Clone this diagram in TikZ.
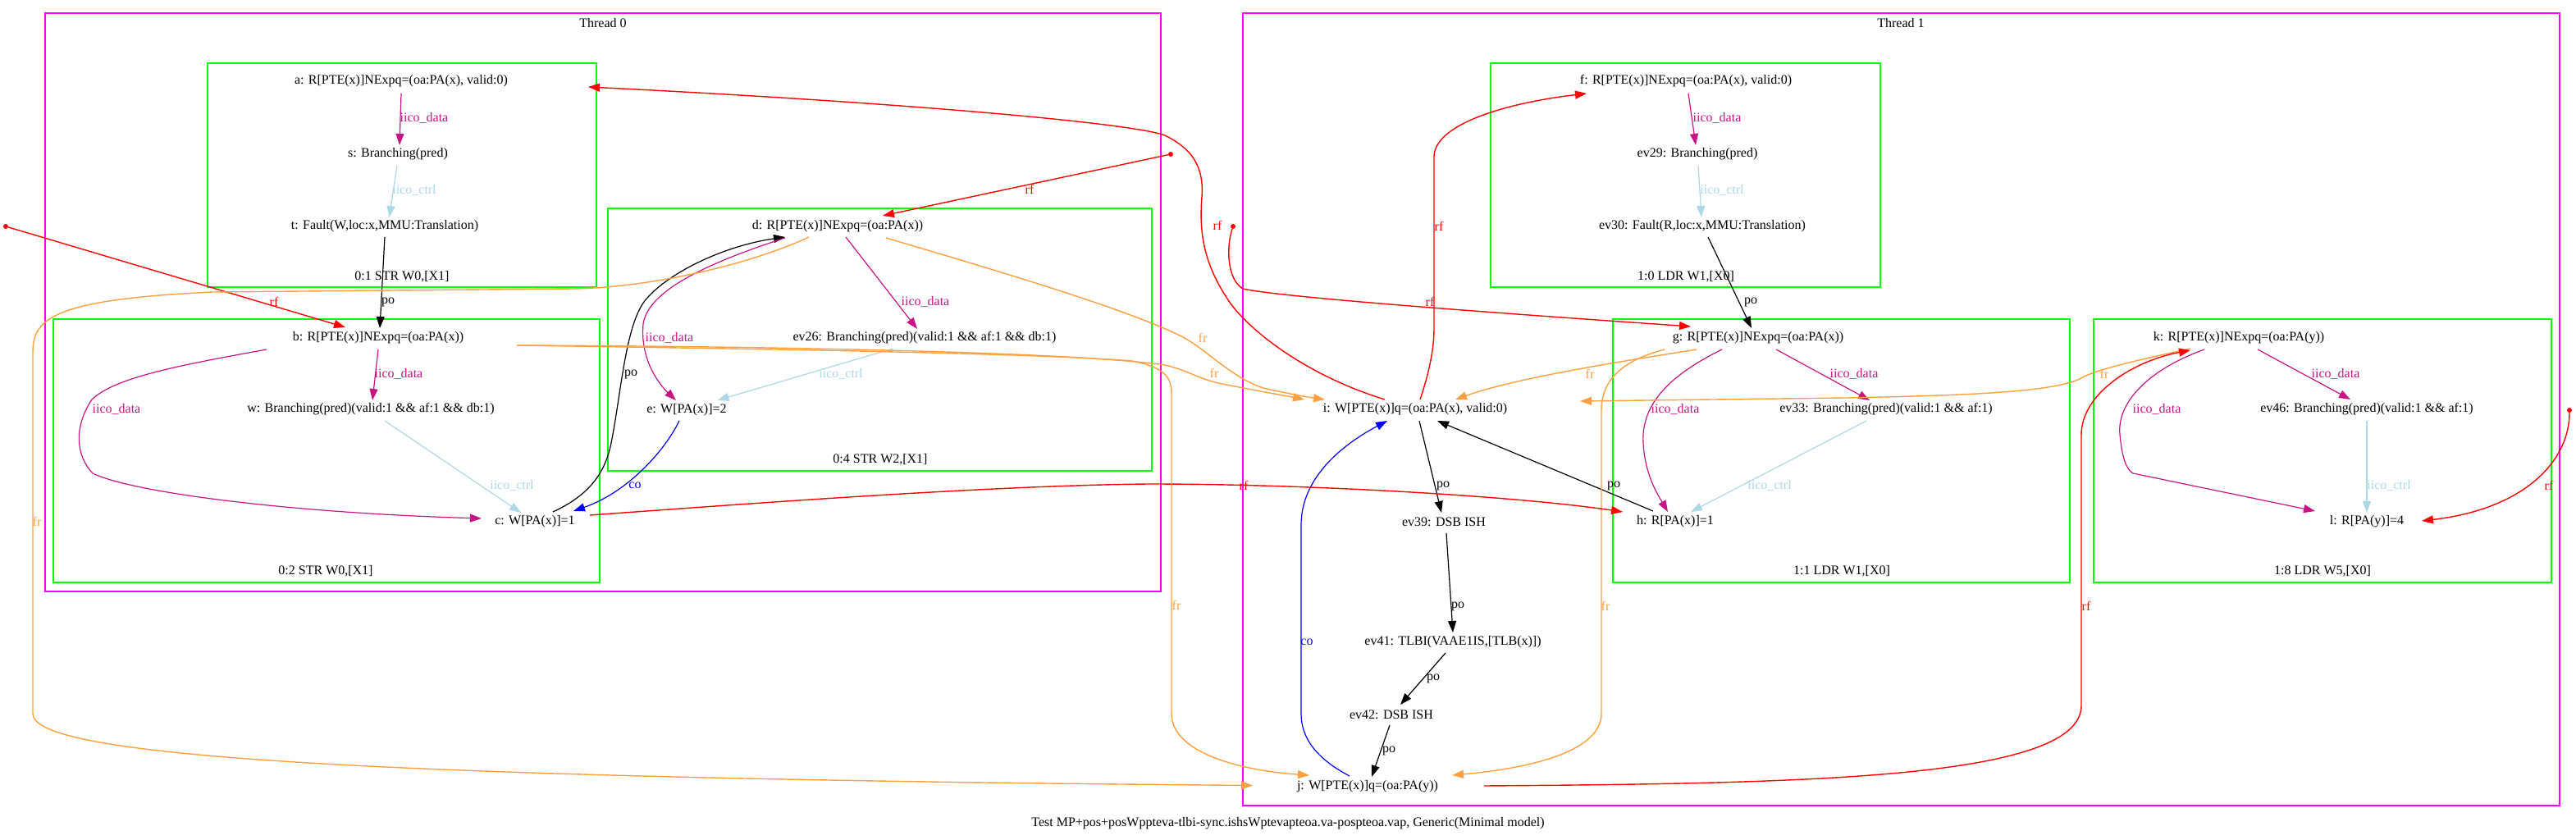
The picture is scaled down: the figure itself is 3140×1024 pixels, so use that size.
\documentclass[tikz,border=0pt]{standalone}
\usepackage{fontspec}
\setmainfont{Liberation Serif}
\usetikzlibrary{arrows.meta}
\definecolor{iicod}{RGB}{199,21,133}
\definecolor{iicoc}{RGB}{173,216,230}
\definecolor{frc}{RGB}{255,160,64}
\definecolor{grn}{RGB}{0,255,0}
\definecolor{mag}{RGB}{255,0,255}
\begin{document}
\begin{tikzpicture}[x=1pt,y=-1pt,
  every node/.style={font=\fontsize{16}{19}\selectfont, inner sep=0pt},
  ev/.style={},
  lbl/.style={},
  dotnode/.style={circle,fill=red,minimum size=6pt,inner sep=0pt},
  thr/.style={draw=mag,line width=1.4pt},
  insbox/.style={draw=grn,line width=1.6pt},
  tipped/.style={-{Triangle[length=14pt,width=10pt]}},
  edata/.style={tipped,draw=iicod,fill=none,line width=1.2pt},
  ectrl/.style={tipped,draw=iicoc,line width=1.2pt},
  epo/.style={tipped,draw=black,line width=1.2pt},
  erf/.style={tipped,draw=red,line width=1.4pt},
  efr/.style={tipped,draw=frc,line width=1.4pt},
  eco/.style={tipped,draw=blue,line width=1.2pt}]
\useasboundingbox (0,0) rectangle (3140,1024);
\fill[white] (0,0) rectangle (3140,1024);

% clusters
\draw[thr] (55,16) rectangle (1415,721);
\draw[thr] (1515,16) rectangle (3120,982);
\draw[insbox] (253,77) rectangle (727,350);
\draw[insbox] (65,389) rectangle (731,710);
\draw[insbox] (741,254) rectangle (1404,574);
\draw[insbox] (1817,77) rectangle (2292,350);
\draw[insbox] (1966,389) rectangle (2523,710);
\draw[insbox] (2552,389) rectangle (3110,710);

\node (th0) at (735,28) {Thread 0};
\node (th1) at (2317,28) {Thread 1};
\node (cA) at (490,337) {0:1 STR W0,[X1]};
\node (cB) at (397,696) {0:2 STR W0,[X1]};
\node (cC) at (1073,560) {0:4 STR W2,[X1]};
\node (cD) at (2055,337) {1:0 LDR W1,[X0]};
\node (cE) at (2245,696) {1:1 LDR W1,[X0]};
\node (cF) at (2831,696) {1:8 LDR W5,[X0]};
\node (cap) at (1570,1004) {Test MP+pos+posWppteva-tlbi-sync.ishsWptevapteoa.va-pospteoa.vap, Generic(Minimal model)};

% events
\node[ev] (a) at (489,99) {a: R[PTE(x)]NExpq=(oa:PA(x), valid:0)};
\node[ev] (s) at (485,188) {s: Branching(pred)};
\node[ev] (t) at (469,276) {t: Fault(W,loc:x,MMU:Translation)};
\node[ev] (b) at (461,412) {b: R[PTE(x)]NExpq=(oa:PA(x))};
\node[ev] (w) at (452,499) {w: Branching(pred)(valid:1 \&\& af:1 \&\& db:1)};
\node[ev] (c) at (652,636) {c: W[PA(x)]=1};
\node[ev] (d) at (1021,276) {d: R[PTE(x)]NExpq=(oa:PA(x))};
\node[ev] (ev26) at (1127,412) {ev26: Branching(pred)(valid:1 \&\& af:1 \&\& db:1)};
\node[ev] (e) at (837,500) {e: W[PA(x)]=2};
\node[ev] (f) at (2055,99) {f: R[PTE(x)]NExpq=(oa:PA(x), valid:0)};
\node[ev] (ev29) at (2069,188) {ev29: Branching(pred)};
\node[ev] (ev30) at (2075,276) {ev30: Fault(R,loc:x,MMU:Translation)};
\node[ev] (g) at (2143,412) {g: R[PTE(x)]NExpq=(oa:PA(x))};
\node[ev] (ev33) at (2299,499) {ev33: Branching(pred)(valid:1 \&\& af:1)};
\node[ev] (h) at (2042,636) {h: R[PA(x)]=1};
\node[ev] (k) at (2729,412) {k: R[PTE(x)]NExpq=(oa:PA(y))};
\node[ev] (ev46) at (2885,499) {ev46: Branching(pred)(valid:1 \&\& af:1)};
\node[ev] (l) at (2885,636) {l: R[PA(y)]=4};
\node[ev] (i) at (1725,499) {i: W[PTE(x)]q=(oa:PA(x), valid:0)};
\node[ev] (ev39) at (1760,636) {ev39: DSB ISH};
\node[ev] (ev41) at (1771,783) {ev41: TLBI(VAAE1IS,[TLB(x)])};
\node[ev] (ev42) at (1696,871) {ev42: DSB ISH};
\node[ev] (j) at (1667,959) {j: W[PTE(x)]q=(oa:PA(y))};

\node[dotnode] (p1) at (7,276) {};
\node[dotnode] (p2) at (1427,188) {};
\node[dotnode] (p3) at (1503,276) {};
\node[dotnode] (p4) at (3132,500) {};

% Thread 0 edges
\draw[edata] ([shift={(0,15)}]a.center) -- ([shift={(2,-11)}]s.center);
\draw[ectrl] ([shift={(-1,14)}]s.center) -- ([shift={(5.5,-11)}]t.center);
\draw[epo] ([shift={(0,13)}]t.center) -- ([shift={(2,-12)}]b.center);
\draw[edata] ([shift={(0,14)}]b.center) -- ([shift={(2,-11)}]w.center);
\draw[edata] ([shift={(-136,14)}]b.center) .. controls (220,445) and (140,460) .. (112,487) .. controls (90,520) and (92,555) .. (113,577) .. controls (160,600) and (350,625) .. ([shift={(-65,-4)}]c.center);
\draw[ectrl] ([shift={(17,14)}]w.center) -- ([shift={(-17,-11)}]c.center);
\draw[epo] ([shift={(22,-12)}]c.center) .. controls (715,605) and (737,580) .. (745,540) .. controls (757,480) and (762,400) .. (785,368) .. controls (810,335) and (880,300) .. ([shift={(-64,13)}]d.center);
\draw[edata] ([shift={(-64,14)}]d.center) .. controls (880,315) and (790,350) .. (784,395) .. controls (780,440) and (805,470) .. ([shift={(-13,-12)}]e.center);
\draw[edata] ([shift={(10,13)}]d.center) -- ([shift={(-9,-11)}]ev26.center);
\draw[ectrl] ([shift={(-39,13)}]ev26.center) -- ([shift={(37.5,-12)}]e.center);
\draw[eco] ([shift={(-9,13)}]e.center) .. controls (810,550) and (765,600) .. ([shift={(47,-13)}]c.center);
\draw[erf] (p1) -- ([shift={(-40,-13)}]b.center);
\draw[erf] (p2) -- ([shift={(55,-13)}]d.center);

% Thread 1 edges
\draw[edata] ([shift={(3,15)}]f.center) -- ([shift={(-2,-11)}]ev29.center);
\draw[ectrl] ([shift={(1,14)}]ev29.center) -- ([shift={(-1,-11)}]ev30.center);
\draw[epo] ([shift={(7,13)}]ev30.center) -- ([shift={(-8,-12)}]g.center);
\draw[edata] ([shift={(22,14)}]g.center) -- ([shift={(-20,-11)}]ev33.center);
\draw[edata] ([shift={(-44,14)}]g.center) .. controls (2040,455) and (2000,490) .. (2003,540) .. controls (2005,580) and (2022,605) .. ([shift={(-9,-12)}]h.center);
\draw[ectrl] ([shift={(-24,14)}]ev33.center) -- ([shift={(19,-12)}]h.center);
\draw[epo] ([shift={(-27,-13)}]h.center) -- ([shift={(27,14)}]i.center);
\draw[epo] ([shift={(5,14)}]i.center) -- ([shift={(-3,-11)}]ev39.center);
\draw[epo] ([shift={(3,14)}]ev39.center) -- ([shift={(0,-12)}]ev41.center);
\draw[epo] ([shift={(-9,13)}]ev41.center) -- ([shift={(11,-12)}]ev42.center);
\draw[epo] ([shift={(-2,13)}]ev42.center) -- ([shift={(5,-12)}]j.center);
\draw[eco] ([shift={(-22,-13)}]j.center) .. controls (1605,925) and (1586,900) .. (1586,870) -- (1586,640) .. controls (1586,580) and (1640,540) .. ([shift={(-34,14)}]i.center);
\draw[erf] ([shift={(6,-12)}]i.center) .. controls (1740,460) and (1748,430) .. (1748,400) -- (1748,190) .. controls (1750,150) and (1840,125) .. ([shift={(-121,15)}]f.center);
\draw[erf] ([shift={(-37,-12)}]i.center) .. controls (1600,460) and (1530,410) .. (1500,370) .. controls (1465,320) and (1462,280) .. (1465,240) .. controls (1468,200) and (1450,180) .. (1420,165) .. controls (1380,150) and (1100,125) .. ([shift={(228,7)}]a.center);
\draw[efr] ([shift={(-75,14)}]g.center) .. controls (1980,440) and (1850,460) .. ([shift={(49,-12)}]i.center);
\draw[efr] ([shift={(-114,14)}]g.center) .. controls (1975,440) and (1952,465) .. (1952,500) -- (1952,870) .. controls (1952,920) and (1850,938) .. ([shift={(103,-14)}]j.center);
\draw[efr] ([shift={(-59,13)}]k.center) .. controls (2600,440) and (2550,452) .. (2535,462) .. controls (2500,478) and (2400,482) .. (2250,485) -- ([shift={(201,-10)}]i.center);
\draw[erf] ([shift={(142,-1)}]j.center) .. controls (2200,955) and (2537,950) .. (2537,860) -- (2537,530) .. controls (2537,480) and (2600,440) .. ([shift={(-59,15)}]k.center);
\draw[edata] ([shift={(23,14)}]k.center) -- ([shift={(-20,-12)}]ev46.center);
\draw[edata] ([shift={(-42,14)}]k.center) .. controls (2620,450) and (2580,490) .. (2584,530) .. controls (2587,560) and (2592,572) .. (2600,577) -- ([shift={(-63,-13)}]l.center);
\draw[ectrl] ([shift={(0,14)}]ev46.center) -- ([shift={(0,-11)}]l.center);
\draw[erf] (p3) .. controls (1495,300) and (1495,340) .. (1515,352) .. controls (1560,362) and (1800,380) .. ([shift={(-82,-14)}]g.center);
\draw[erf] (p4) .. controls (3132,560) and (3080,620) .. ([shift={(67,-1)}]l.center);
\draw[erf] ([shift={(67,-8)}]c.center) .. controls (900,615) and (1200,592) .. (1400,590) .. controls (1600,590) and (1850,605) .. ([shift={(-64,-12)}]h.center);

% cross-thread fr
\draw[efr] ([shift={(59,14)}]d.center) .. controls (1250,340) and (1380,380) .. (1440,410) .. controls (1470,425) and (1500,460) .. (1540,473) .. controls (1570,480) and (1600,485) .. ([shift={(-110,-12)}]i.center);
\draw[efr] ([shift={(169,9)}]b.center) .. controls (900,422) and (1300,428) .. (1420,445) .. controls (1450,452) and (1460,462) .. (1490,468) .. controls (1530,476) and (1570,483) .. ([shift={(-135,-12)}]i.center);
\draw[efr] ([shift={(169,9)}]b.center) .. controls (900,425) and (1250,430) .. (1380,440) .. controls (1420,448) and (1428,460) .. (1428,480) -- (1428,870) .. controls (1428,920) and (1520,940) .. ([shift={(-71,-14)}]j.center);
\draw[efr] ([shift={(-35,13)}]d.center) .. controls (920,320) and (800,350) .. (700,352) -- (260,356) .. controls (60,365) and (40,390) .. (40,430) -- (40,870) .. controls (40,920) and (400,948) .. ([shift={(-140,-1.5)}]j.center);

% edge labels
\node[lbl,text=iicod] (L1) at (517,144) {iico\_data};
\node[lbl,text=iicoc] (L2) at (505,232) {iico\_ctrl};
\node[lbl] (L3) at (473,368) {po};
\node[lbl,text=red] (L4) at (334,368) {rf};
\node[lbl,text=iicod] (L5) at (486,456) {iico\_data};
\node[lbl,text=iicod] (L6) at (142,499) {iico\_data};
\node[lbl,text=iicoc] (L7) at (624,592) {iico\_ctrl};
\node[lbl] (L8) at (769,456) {po};
\node[lbl,text=iicod] (L9) at (816,412) {iico\_data};
\node[lbl,text=iicod] (L10) at (1128,368) {iico\_data};
\node[lbl,text=iicoc] (L11) at (1025,456) {iico\_ctrl};
\node[lbl,text=blue] (L12) at (774,592) {co};
\node[lbl,text=red] (L13) at (1255,231) {rf};
\node[lbl,text=iicod] (L14) at (2093,144) {iico\_data};
\node[lbl,text=iicoc] (L15) at (2099,232) {iico\_ctrl};
\node[lbl] (L16) at (2134,368) {po};
\node[lbl,text=red] (L17) at (1754,276) {rf};
\node[lbl,text=red] (L18) at (1743,368) {rf};
\node[lbl,text=red] (L19) at (1484,275) {rf};
\node[lbl,text=frc] (L20) at (1466,412) {fr};
\node[lbl,text=frc] (L21) at (1480,455) {fr};
\node[lbl,text=frc] (L22) at (1434,738) {fr};
\node[lbl,text=frc] (L23) at (45,636) {fr};
\node[lbl,text=red] (L24) at (1516,592) {rf};
\node[lbl,text=frc] (L25) at (1938,456) {fr};
\node[lbl,text=frc] (L26) at (1957,739) {fr};
\node[lbl,text=iicod] (L27) at (2260,456) {iico\_data};
\node[lbl,text=iicod] (L28) at (2042,499) {iico\_data};
\node[lbl,text=iicoc] (L29) at (2157,592) {iico\_ctrl};
\node[lbl] (L30) at (1967,592) {po};
\node[lbl] (L31) at (1759,592) {po};
\node[lbl] (L32) at (1777,739) {po};
\node[lbl] (L33) at (1747,827) {po};
\node[lbl] (L34) at (1693,915) {po};
\node[lbl,text=blue] (L35) at (1593,783) {co};
\node[lbl,text=frc] (L36) at (2565,456) {fr};
\node[lbl,text=red] (L37) at (2543,739) {rf};
\node[lbl,text=iicod] (L38) at (2847,456) {iico\_data};
\node[lbl,text=iicod] (L39) at (2629,499) {iico\_data};
\node[lbl,text=iicoc] (L40) at (2912,592) {iico\_ctrl};
\node[lbl,text=red] (L41) at (3107,592) {rf};
\end{tikzpicture}
\end{document}
